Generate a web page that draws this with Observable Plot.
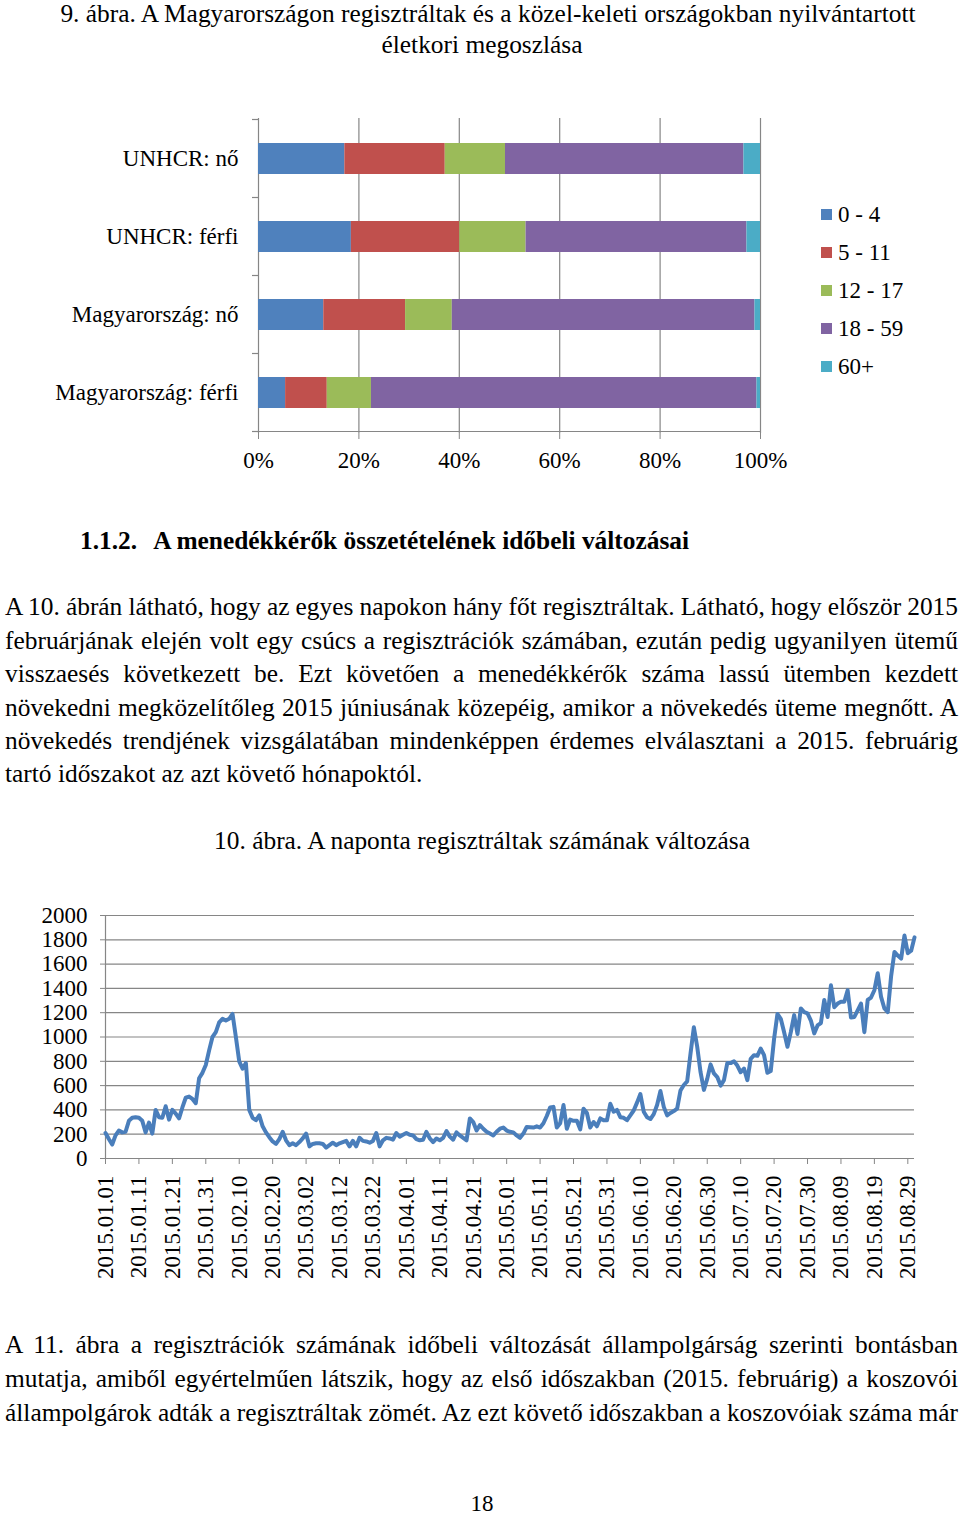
<!DOCTYPE html>
<html><head><meta charset="utf-8">
<script src="https://cdn.jsdelivr.net/npm/d3@7"></script>
<script src="https://cdn.jsdelivr.net/npm/@observablehq/plot@0.6"></script>
<style>
body{margin:0;background:#fff;font-family:"Liberation Serif","Times New Roman",serif;color:#000;}
#page{position:relative;width:960px;height:1515px;overflow:hidden;background:#fff;}
.abs{position:absolute;white-space:nowrap;}
.ctr{position:absolute;left:0;width:964px;text-align:center;font-size:25.4px;line-height:34px;white-space:nowrap;}
.jl{position:absolute;left:5px;width:953px;font-size:25.4px;line-height:34px;height:34px;white-space:nowrap;text-align:left;}
.ll{position:absolute;left:5px;font-size:25.4px;line-height:34px;white-space:nowrap;}
.lg{position:absolute;left:821px;width:11px;height:11px;}
.lt{position:absolute;left:838px;font-size:23px;line-height:30px;white-space:nowrap;}
#err{position:absolute;left:0;top:1440px;font:12px monospace;color:red;white-space:pre;}
</style>
</head><body>
<div id="page">
  <div class="ctr" style="top:0px;left:6px;line-height:26px">9. ábra. A Magyarországon regisztráltak és a közel-keleti országokban nyilvántartott</div>
  <div class="ctr" style="top:27px">életkori megoszlása</div>
  <div id="bar" class="abs" style="top:100px;left:0;width:960px;height:380px"></div>
  <div id="legend"></div>
  <div class="abs" style="left:80px;top:523px;font-size:25.4px;line-height:34px;font-weight:bold">1.1.2.<span style="display:inline-block;width:16px"></span>A menedékkérők összetételének időbeli változásai</div>
  <div class="jl" style="top:589px">A 10. ábrán látható, hogy az egyes napokon hány főt regisztráltak. Látható, hogy először 2015</div>
  <div class="jl" style="top:623px">februárjának elején volt egy csúcs a regisztrációk számában, ezután pedig ugyanilyen ütemű</div>
  <div class="jl" style="top:656px">visszaesés következett be. Ezt követően a menedékkérők száma lassú ütemben kezdett</div>
  <div class="jl" style="top:690px">növekedni megközelítőleg 2015 júniusának közepéig, amikor a növekedés üteme megnőtt. A</div>
  <div class="jl" style="top:723px">növekedés trendjének vizsgálatában mindenképpen érdemes elválasztani a 2015. februárig</div>
  <div class="ll" style="top:756px">tartó időszakot az azt követő hónapoktól.</div>
  <div class="ctr" style="top:823px">10. ábra. A naponta regisztráltak számának változása</div>
  <div id="line" class="abs" style="top:890px;left:0;width:960px;height:400px"></div>
  <div class="jl" style="top:1327px">A 11. ábra a regisztrációk számának időbeli változását állampolgárság szerinti bontásban</div>
  <div class="jl" style="top:1361px">mutatja, amiből egyértelműen látszik, hogy az első időszakban (2015. februárig) a koszovói</div>
  <div class="jl" style="top:1395px">állampolgárok adták a regisztráltak zömét. Az ezt követő időszakban a koszovóiak száma már</div>
  <div class="ctr" style="top:1493px;font-size:23px;line-height:22px">18</div>
  <div id="err"></div>
</div>
<script>
// ---- Bar chart data (percent shares) ----
const categories = ["UNHCR: nő", "UNHCR: férfi", "Magyarország: nő", "Magyarország: férfi"];
const ageGroups = ["0 - 4", "5 - 11", "12 - 17", "18 - 59", "60+"];
const ageColors = ["#4F81BD", "#C0504D", "#9BBB59", "#8064A2", "#4BACC6"];
const share0to4 = [17.2, 18.5, 13.0, 5.4];
const share5to11 = [20.0, 21.6, 16.3, 8.3];
const share12to17 = [12.0, 13.2, 9.3, 8.8];
const share18to59 = [47.5, 44.0, 60.3, 76.8];
const share60plus = [3.3, 2.7, 1.1, 0.7];
const percentTicks = [0, 20, 40, 60, 80, 100];

// ---- Line chart data (daily registrations from 2015.01.01) ----
const startDate = "2015.01.01";
const dailyRegistrations = [
  210,160,115,190,230,215,220,310,335,340,
  335,310,215,295,205,400,340,335,430,320,
  400,370,330,420,500,510,490,455,660,705,
  770,890,1000,1040,1120,1150,1135,1150,1190,1000,
  800,740,785,400,335,315,355,265,215,175,
  140,120,160,220,150,110,125,110,135,165,
  205,100,120,125,125,120,90,110,130,110,
  125,135,145,100,145,100,170,145,140,130,
  145,210,100,150,170,165,155,210,180,195,
  210,195,190,160,150,155,220,165,135,165,
  150,170,225,180,155,215,190,170,150,330,
  300,230,275,245,220,205,190,220,245,255,
  230,220,215,190,170,205,260,258,255,265,
  255,290,350,420,425,255,290,440,245,320,
  310,310,240,410,375,255,300,265,330,315,
  315,450,385,400,340,335,315,355,395,460,
  530,385,340,325,365,440,555,425,355,375,
  390,410,560,605,635,865,1080,920,710,565,
  655,775,700,670,600,645,785,785,800,765,
  710,740,645,820,850,845,905,850,705,720,
  985,1190,1150,1040,920,1040,1180,1025,1235,1205,
  1195,1135,1030,1095,1115,1305,1165,1425,1245,1275,
  1290,1290,1385,1160,1165,1220,1275,1040,1305,1325,
  1385,1525,1330,1235,1205,1500,1700,1670,1645,1835,
  1690,1710,1820
];
const dateTickLabels = ["2015.01.01","2015.01.11","2015.01.21","2015.01.31","2015.02.10","2015.02.20",
  "2015.03.02","2015.03.12","2015.03.22","2015.04.01","2015.04.11","2015.04.21","2015.05.01",
  "2015.05.11","2015.05.21","2015.05.31","2015.06.10","2015.06.20","2015.06.30","2015.07.10",
  "2015.07.20","2015.07.30","2015.08.09","2015.08.19","2015.08.29"];
const countTicks = [0,200,400,600,800,1000,1200,1400,1600,1800,2000];

const axisGray = "#868686";
const fontStyle = {fontFamily: "'Liberation Serif','Times New Roman',serif", fontSize: "23px", color: "black", background: "transparent"};
const errBox = document.getElementById("err");

// justify body lines exactly to 953px
document.querySelectorAll(".jl").forEach(el => {
  const text = el.textContent;
  el.textContent = "";
  const span = document.createElement("span");
  span.textContent = text;
  el.appendChild(span);
  const w = span.getBoundingClientRect().width;
  const spaces = (text.match(/ /g) || []).length;
  if (spaces) el.style.wordSpacing = ((953 - w) / spaces) + "px";
});

// ---- Bar chart ----
try {
  const shareSeries = [share0to4, share5to11, share12to17, share18to59, share60plus];
  const barRows = [];
  categories.forEach((c, i) => ageGroups.forEach((g, j) => barRows.push({cat: c, group: g, value: shareSeries[j][i]})));

  const bar = Plot.plot({
    width: 960, height: 380,
    marginLeft: 258, marginRight: 200, marginTop: 18, marginBottom: 47,
    style: fontStyle,
    x: {domain: [0, 100], label: null},
    y: {domain: categories, paddingInner: 0.6, paddingOuter: 0.3, label: null},
    color: {domain: ageGroups, range: ageColors},
    marks: [
      Plot.gridX(percentTicks, {stroke: axisGray, strokeOpacity: 1, strokeWidth: 1.2}),
      Plot.barX(barRows, Plot.stackX({x: "value", y: "cat", fill: "group"})),
      Plot.axisX(percentTicks, {tickFormat: d => d + "%", tickSize: 6, tickPadding: 12, stroke: axisGray, color: "black", label: null}),
      Plot.axisY({tickSize: 0, tickPadding: 20, color: "black", label: null})
    ]
  });
  document.getElementById("bar").appendChild(bar);
  const ys = bar.scale("y");
  const step = ys.step, bw = ys.bandwidth;
  const bounds = categories.map(c => ys.apply(c) - (step - bw) / 2);
  bounds.push(bounds[bounds.length - 1] + step);
  const svg = d3.select(bar);
  bounds.forEach(b => svg.append("line").attr("x1", 252).attr("x2", 258).attr("y1", b).attr("y2", b)
    .attr("stroke", axisGray).attr("stroke-width", 1.2));
  const bottom = bounds[bounds.length - 1];
  svg.append("line").attr("x1", 258).attr("x2", 760).attr("y1", bottom).attr("y2", bottom)
    .attr("stroke", axisGray).attr("stroke-width", 1.2);
} catch (e) { errBox.textContent += "bar: " + e + "\n"; }

// legend
{
  const lg = document.getElementById("legend");
  const centers = [215, 253, 291, 329, 367];
  ageGroups.forEach((g, i) => {
    const sw = document.createElement("div");
    sw.className = "lg"; sw.style.top = (centers[i] - 6) + "px"; sw.style.background = ageColors[i];
    lg.appendChild(sw);
    const t = document.createElement("div");
    t.className = "lt"; t.style.top = (centers[i] - 15) + "px"; t.textContent = g;
    lg.appendChild(t);
  });
}

// ---- Line chart ----
try {
  const parse = d3.utcParse("%Y.%m.%d");
  const start = parse(startDate);
  const series = dailyRegistrations.map((v, i) => ({date: d3.utcDay.offset(start, i), value: v}));
  const dateTicks = dateTickLabels.map(parse);

  const line = Plot.plot({
    width: 960, height: 400,
    marginLeft: 105, marginRight: 46, marginTop: 25, marginBottom: 132,
    style: fontStyle,
    x: {type: "utc", domain: [series[0].date, series[series.length - 1].date], label: null},
    y: {domain: [0, 2000], label: null},
    marks: [
      Plot.gridY(countTicks, {stroke: axisGray, strokeOpacity: 1, strokeWidth: 1.2}),
      Plot.ruleX([series[0].date], {stroke: axisGray, strokeWidth: 1.2}),
      Plot.axisY(countTicks, {tickSize: 5, tickPadding: 13, stroke: axisGray, color: "black", tickFormat: d => String(d), label: null}),
      Plot.axisX(dateTicks, {tickFormat: d3.utcFormat("%Y.%m.%d"), tickRotate: -90, tickSize: 6, tickPadding: 11, stroke: axisGray, color: "black", label: null}),
      Plot.line(series, {x: "date", y: "value", stroke: "#4A7EBB", strokeWidth: 4, strokeLinejoin: "round"})
    ]
  });
  document.getElementById("line").appendChild(line);
} catch (e) { errBox.textContent += "line: " + e + "\n"; }
</script>
</body></html>
